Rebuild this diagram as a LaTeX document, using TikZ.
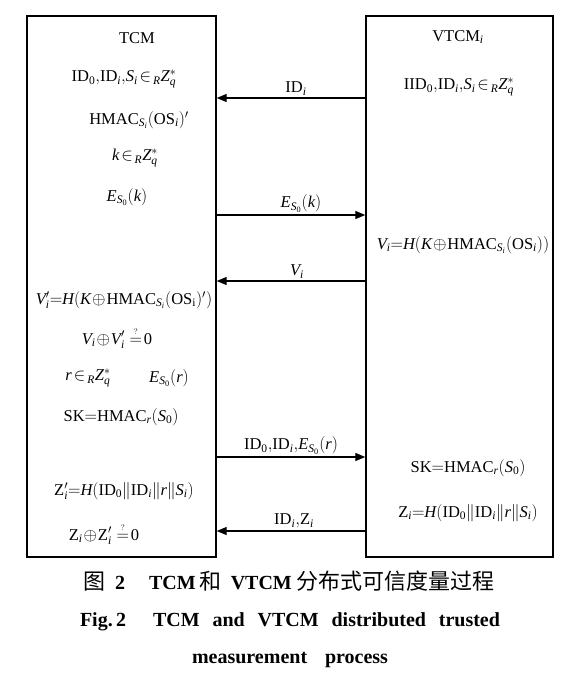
\documentclass[tikz,border=0pt]{standalone}
\usepackage{fontspec}
\setmainfont{Liberation Serif}
\newfontfamily\cjk{Noto Sans CJK SC}
\usetikzlibrary{arrows.meta}
\newcommand{\mi}[1]{\mathit{#1}}
\newcommand{\qeq}{\mathrel{\stackrel{\raisebox{2pt}{$\scriptscriptstyle ?$}}{=}}}
\newcommand{\cm}{{,}}
\newcommand{\xo}{\mathbin{\!\oplus\!}}
\newcommand{\inn}{\mathrel{\!\in\!}}
\newcommand{\zr}{\mathrm{0}}
\newcommand{\cjkc}[1]{{\fontsize{22}{24}\selectfont\cjk\mdseries #1}}
\begin{document}
\begin{tikzpicture}[x=1pt,y=-1pt,
  party/.style={draw, line width=1.4pt, rectangle, inner sep=0pt, minimum height=541pt},
  txt/.style={font=\fontsize{16.5}{19}\selectfont, inner sep=1pt},
  msg/.style={line width=1.3pt, -{Triangle[length=10pt,width=8pt]}},
  lbl/.style={font=\fontsize{16.5}{19}\selectfont, midway, above=1pt, inner sep=1pt},
  captext/.style={font=\fontsize{20}{24}\selectfont\bfseries, inner sep=0pt}]
\useasboundingbox (0,0) rectangle (577,681);
\fill[white] (0,0) rectangle (577,681);
% parties
\node[party, minimum width=189pt] (tcm) at (121.5,286.5) {};
\node[party, minimum width=187pt] (vt) at (459.5,286.5) {};
% left texts
\node[txt] (t1) at (137,38) {TCM};
\node[txt] (t2) at (124,79) {$\mathrm{ID}_\zr\cm\mathrm{ID}_{\mi{i}}\cm\mi{S}_{\mi{i}}\inn{}_{\mi{R}}\mi{Z}_{\mi{q}}^{*}$};
\node[txt] (t3) at (139,120) {$\mathrm{HMAC}_{\mi{S}_{\mi{i}}}(\mathrm{OS}_{\mi{i}})'$};
\node[txt] (t4) at (135,158) {$\mi{k}\inn{}_{\mi{R}}\mi{Z}_{\mi{q}}^{*}$};
\node[txt] (t5) at (127,197) {$\mi{E}_{\mi{S}_\zr}(\mi{k})$};
\node[txt] (t6) at (124,300) {$\mi{V}_{\mi{i}}'{=}\mi{H}(\mi{K}\xo\mathrm{HMAC}_{\mi{S}_{\mi{i}}}(\mathrm{OS}_{\mathrm{i}})')$};
\node[txt] (t7) at (117,338) {$\mi{V}_{\mi{i}}\xo\mi{V}_{\mi{i}}'\qeq\!\zr$};
\node[txt] (t8) at (88,378) {$\mi{r}\inn{}_{\mi{R}}\mi{Z}_{\mi{q}}^{*}$};
\node[txt] (t9) at (169,378) {$\mi{E}_{\mi{S}_\zr}(\mi{r})$};
\node[txt] (t10) at (121,417) {$\mathrm{SK}{=}\mathrm{HMAC}_{\mi{r}}(\mi{S}_\zr)$};
\node[txt] (t11) at (124,491) {$\mathrm{Z}_{\mi{i}}'{=}\mi{H}(\mathrm{ID}_\zr\|\mathrm{ID}_{\mi{i}}\|\mi{r}\|\mi{S}_{\mi{i}})$};
\node[txt] (t12) at (104,534) {$\mathrm{Z}_{\mi{i}}\xo\mathrm{Z}_{\mi{i}}'\qeq\!\zr$};
% right texts
\node[txt] (r1) at (458,37) {$\mathrm{VTCM}_{\mi{i}}$};
\node[txt] (r2) at (459,87) {$\mathrm{IID}_\zr\cm\mathrm{ID}_{\mi{i}}\cm\mi{S}_{\mi{i}}\inn{}_{\mi{R}}\mi{Z}_{\mi{q}}^{*}$};
\node[txt] (r3) at (463,245) {$\mi{V}_{\mi{i}}{=}\mi{H}(\mi{K}\xo\mathrm{HMAC}_{\mi{S}_{\mi{i}}}(\mathrm{OS}_{\mi{i}}))$};
\node[txt] (r4) at (468,468) {$\mathrm{SK}{=}\mathrm{HMAC}_{\mi{r}}(\mi{S}_\zr)$};
\node[txt] (r5) at (468,513) {$\mathrm{Z}_{\mi{i}}{=}\mi{H}(\mathrm{ID}_\zr\|\mathrm{ID}_{\mi{i}}\|\mi{r}\|\mi{S}_{\mi{i}})$};
% messages
\draw[msg] (vt.west |- 0,98) -- (tcm.east |- 0,98) node[lbl, xshift=5pt] {$\mathrm{ID}_{\mi{i}}$};
\draw[msg] (tcm.east |- 0,215) -- (vt.west |- 0,215) node[lbl, xshift=10pt] {$\mi{E}_{\mi{S}_\zr}(\mi{k})$};
\draw[msg] (vt.west |- 0,281) -- (tcm.east |- 0,281) node[lbl, xshift=6pt] {$\mi{V}_{\mi{i}}$};
\draw[msg] (tcm.east |- 0,457) -- (vt.west |- 0,457) node[lbl] {$\mathrm{ID}_\zr\cm\mathrm{ID}_{\mi{i}}\cm\mi{E}_{\mi{S}_\zr}(\mi{r})$};
\draw[msg] (vt.west |- 0,531) -- (tcm.east |- 0,531) node[lbl, xshift=3pt] {$\mathrm{ID}_{\mi{i}}\cm\mathrm{Z}_{\mi{i}}$};
% caption
\node[captext] (c1) at (289,581) {\cjkc{图}\hspace{10pt}2\hspace{24pt}TCM\hspace{4pt}\cjkc{和}\hspace{9pt}VTCM\hspace{5pt}\cjkc{分布式可信度量过程}};
\node[captext] (c2) at (290,622) {\makebox[420pt][s]{Fig.\,2\hspace{27pt}TCM and VTCM distributed trusted}};
\node[captext] (c3) at (290,660) {\makebox[196pt][s]{measurement process}};
\end{tikzpicture}
\end{document}
